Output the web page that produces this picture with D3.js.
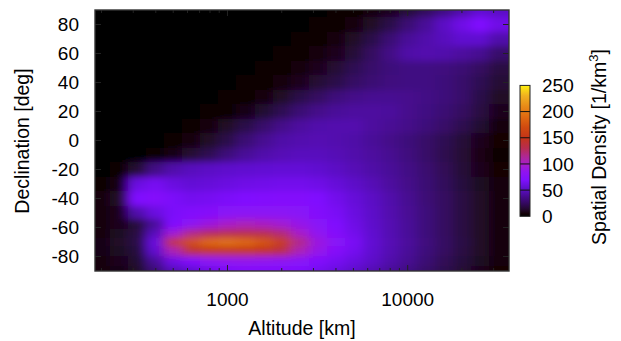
<!DOCTYPE html>
<html><head><meta charset="utf-8">
<script src="https://cdn.jsdelivr.net/npm/d3@7"></script>
<style>
body{margin:0;background:#fff}
svg{display:block}
text{font-family:"Liberation Sans",Arial,Helvetica,sans-serif;fill:#000}
</style>
</head><body>
<svg id="c" width="621" height="341"></svg>
<script>
// Altitude bin centres [km] (log spaced)
const altitudes = [200, 251, 316, 398, 501, 631, 794, 1000, 1259, 1585, 1995, 2512, 3162, 3981, 5012, 6310, 7943, 10000, 12589, 15849, 19953, 25119, 31623];
// Declination bin centres [deg]
const declinations = [90, 80, 70, 60, 50, 40, 30, 20, 10, 0, -10, -20, -30, -40, -50, -58, -64, -70, -76, -83, -90];
// Spatial density [1/km^3], one row per declination, one value per altitude
const density = [
  [0,0,0,0,0,0,0,0,0,0,0,0,0,2,4,6,10,16,24,34,45,56,52],
  [0,0,0,0,0,0,0,0,0,0,0,1,2,4,7,12,20,30,40,52,62,70,62],
  [0,0,0,0,0,0,0,0,0,0,1,2,4,7,12,20,30,40,45,50,55,55,45],
  [0,0,0,0,0,0,0,0,0,1,2,3,6,10,16,25,35,44,46,45,42,38,28],
  [0,0,0,0,0,0,0,0,1,2,4,6,10,15,22,28,32,34,34,33,30,25,18],
  [0,0,0,0,0,0,0,1,2,4,7,10,15,20,26,30,33,34,34,32,28,22,15],
  [0,0,0,0,0,0,1,2,4,7,12,20,25,32,36,38,38,37,35,32,28,20,12],
  [0,0,0,0,0,1,2,4,8,14,22,30,36,40,42,42,41,37,34,30,25,18,10],
  [0,0,0,0,1,3,6,12,20,28,36,42,45,46,46,42,39,36,32,27,21,14,7],
  [0,0,0,1,3,6,12,20,30,38,44,46,47,46,44,40,36,32,27,22,16,10,5],
  [0,0,1,3,8,15,22,32,40,45,48,50,50,48,45,42,38,33,27,21,15,9,4],
  [1,2,15,35,45,50,52,54,55,56,57,57,55,52,48,44,40,35,29,23,16,10,5],
  [4,8,60,66,60,57,58,60,62,63,64,64,62,58,53,48,42,36,30,24,17,11,6],
  [6,12,70,74,68,65,66,68,70,72,73,73,70,64,58,52,45,38,31,25,18,12,6],
  [6,10,45,60,68,72,75,78,80,80,80,78,73,67,60,53,46,39,32,25,18,12,6],
  [6,10,16,40,70,82,92,100,104,102,96,88,78,70,62,54,47,40,32,25,18,12,6],
  [7,11,18,50,95,118,128,132,134,132,122,100,85,74,64,55,47,40,32,25,18,12,6],
  [8,12,20,60,152,174,190,196,190,178,158,118,92,78,67,56,48,41,33,26,19,12,6],
  [8,11,17,55,105,140,150,152,152,148,135,105,88,75,65,55,47,40,32,25,18,12,6],
  [7,10,14,40,62,72,80,85,86,85,82,78,72,66,60,53,45,38,30,23,17,11,6],
  [6,8,12,30,48,55,62,68,72,72,72,70,65,60,54,47,40,34,27,21,15,10,5]
];
const xMajorTicks = [1000, 10000];
const xMinorTicks = [200,300,400,500,600,700,800,900,2000,3000,4000,5000,6000,7000,8000,9000,20000,30000];
const yTicks = [-80,-60,-40,-20,0,20,40,60,80];
const cbTicks = [0,50,100,150,200,250];
const paletteValues = [0,5,12,25,40,55,70,85,100,115,130,150,170,190,210,230,250];
const paletteColors = ["#000000","#120006","#200828","#340860","#4a0a98","#6010d0","#8010ff","#9014f0","#a81ec8","#b02890","#b82c50","#c43418","#d04a10","#e06a10","#e88a18","#f0b020","#fff010"];

const L=95, R=509, T=10, B=271;
const svg = d3.select("#c");
const x = d3.scaleLog().domain([184, 36500]).range([L, R]);
const y = d3.scaleLinear().domain([-90, 90]).range([B, T]);
const color = d3.scaleLinear().domain(paletteValues).range(paletteColors).interpolate(d3.interpolateRgb).clamp(true);

const defs = svg.append("defs");
defs.append("clipPath").attr("id","plotclip").append("rect")
  .attr("x",L).attr("y",T).attr("width",R-L).attr("height",B-T);
defs.append("filter").attr("id","smooth").attr("filterUnits","userSpaceOnUse")
  .attr("x",40).attr("y",-40).attr("width",540).attr("height",360)
  .append("feGaussianBlur").attr("stdDeviation","5.5 3.5");

// cell edges: geometric / arithmetic midpoints between neighbouring bin centres
const nA = altitudes.length, nD = declinations.length;
const cells = [];
density.forEach((row, r) => {
  row.forEach((v, c) => {
    const x0 = c === 0 ? L - 25 : x(Math.sqrt(altitudes[c-1]*altitudes[c]));
    const x1 = c === nA-1 ? R + 25 : x(Math.sqrt(altitudes[c]*altitudes[c+1]));
    const y0 = r === 0 ? T - 25 : y((declinations[r-1] + declinations[r]) / 2);
    const y1 = r === nD-1 ? B + 25 : y((declinations[r] + declinations[r+1]) / 2);
    cells.push({x0, x1, y0, y1, v});
  });
});
svg.append("g").attr("clip-path","url(#plotclip)")
  .append("g").attr("filter","url(#smooth)")
  .selectAll("rect").data(cells).join("rect")
  .attr("x", d => d.x0).attr("y", d => d.y0)
  .attr("width", d => d.x1 - d.x0 + 0.6).attr("height", d => d.y1 - d.y0 + 0.6)
  .attr("fill", d => color(d.v)).attr("shape-rendering","crispEdges");

// ticks
const tk = svg.append("g").attr("stroke","#222").attr("stroke-width",1);
xMajorTicks.forEach(t => {
  tk.append("line").attr("x1",x(t)).attr("x2",x(t)).attr("y1",B).attr("y2",B-6);
  tk.append("line").attr("x1",x(t)).attr("x2",x(t)).attr("y1",T).attr("y2",T+6);
});
xMinorTicks.forEach(t => {
  tk.append("line").attr("x1",x(t)).attr("x2",x(t)).attr("y1",B).attr("y2",B-3);
  tk.append("line").attr("x1",x(t)).attr("x2",x(t)).attr("y1",T).attr("y2",T+3);
});
yTicks.forEach(t => {
  tk.append("line").attr("x1",L).attr("x2",L+6).attr("y1",y(t)).attr("y2",y(t));
  tk.append("line").attr("x1",R).attr("x2",R-6).attr("y1",y(t)).attr("y2",y(t));
});
svg.append("rect").attr("x",L).attr("y",T).attr("width",R-L).attr("height",B-T)
  .attr("fill","none").attr("stroke","#333").attr("stroke-width",1.4);

// tick labels
const fs = 19;
svg.append("g").selectAll("text").data(xMajorTicks).join("text")
  .attr("x", d => x(d)).attr("y", 306).attr("text-anchor","middle")
  .attr("font-size", fs).text(d => d);
svg.append("g").selectAll("text").data(yTicks).join("text")
  .attr("x", 79).attr("y", d => y(d)).attr("dy","0.35em").attr("text-anchor","end")
  .attr("font-size", fs).text(d => d);

// axis titles
svg.append("text").attr("x",302).attr("y",335).attr("text-anchor","middle")
  .attr("font-size",19.5).text("Altitude [km]");
svg.append("text").attr("transform","translate(29,141) rotate(-90)").attr("text-anchor","middle")
  .attr("font-size",19.5).text("Declination [deg]");
const zt = svg.append("text").attr("transform","translate(606,147) rotate(-90)").attr("text-anchor","middle")
  .attr("font-size",19.5);
zt.append("tspan").text("Spatial Density [1/km");
zt.append("tspan").attr("dy",-8).attr("font-size",13).text("3");
zt.append("tspan").attr("dy",8).text("]");

// colour bar
const cb = d3.scaleLinear().domain([0,250]).range([216.3, 85.4]);
const grad = defs.append("linearGradient").attr("id","cbgrad")
  .attr("x1",0).attr("y1",1).attr("x2",0).attr("y2",0);
d3.range(0, 251, 5).forEach(v => {
  grad.append("stop").attr("offset", v/250).attr("stop-color", color(v));
});
const cbX = 520, cbW = 10;
svg.append("rect").attr("x",cbX).attr("y",cb(250)).attr("width",cbW).attr("height",cb(0)-cb(250))
  .attr("fill","url(#cbgrad)");
svg.append("g").attr("stroke","#111").attr("stroke-width",1)
  .selectAll("line").data(cbTicks.filter(t => t>0 && t<250)).join("line")
  .attr("x1",cbX).attr("x2",cbX+cbW).attr("y1",d=>cb(d)).attr("y2",d=>cb(d));
svg.append("rect").attr("x",cbX).attr("y",cb(250)).attr("width",cbW).attr("height",cb(0)-cb(250))
  .attr("fill","none").attr("stroke","#222").attr("stroke-width",1);
svg.append("g").selectAll("text").data(cbTicks).join("text")
  .attr("x", 542).attr("y", d => cb(d)).attr("dy","0.35em")
  .attr("font-size", fs).text(d => d);
</script>
</body></html>
